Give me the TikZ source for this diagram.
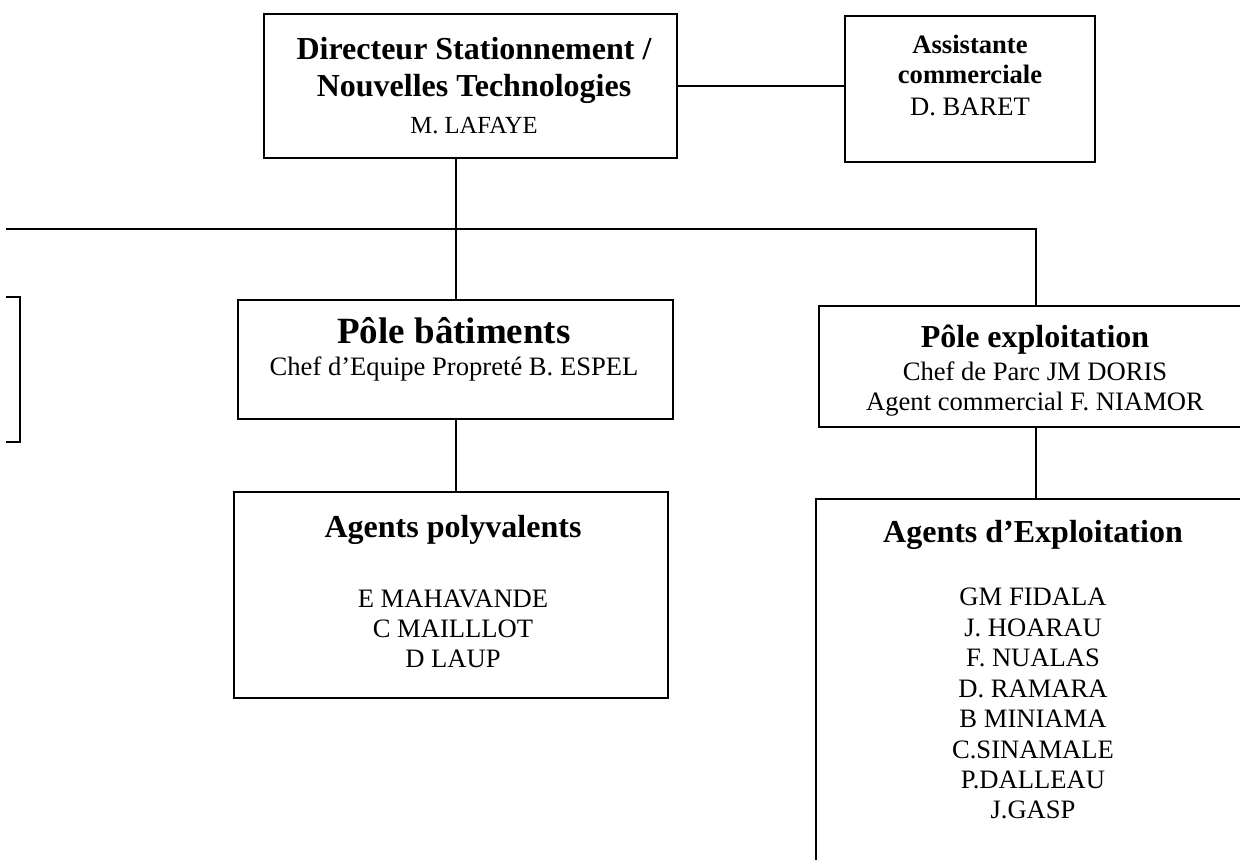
\documentclass[tikz,border=0pt]{standalone}
\usepackage{fontspec}
\setmainfont{Liberation Serif}
\begin{document}
\begin{tikzpicture}[x=0.5pt,y=-0.5pt,
  line width=1pt,
  box/.style={draw, line width=1pt, rectangle, inner sep=0pt, outer sep=0pt},
  lbl/.style={anchor=base, inner sep=0pt, outer sep=0pt},
  reg/.style={lbl, font=\fontsize{13.3}{15}\selectfont},
  small/.style={lbl, font=\fontsize{12.3}{14}\selectfont},
  bhead/.style={lbl, font=\fontsize{16}{18}\selectfont\bfseries},
  bbig/.style={lbl, font=\fontsize{18.5}{21}\selectfont\bfseries},
  bsmall/.style={lbl, font=\fontsize{13.3}{15}\selectfont\bfseries}]
\useasboundingbox (0,0) rectangle (1240,859);
\clip (6,0) rectangle (1240,859);

% boxes
\node[box, minimum width=206.5pt, minimum height=72pt] (dir) at (470.5,86) {};
\node[box, minimum width=125pt, minimum height=73pt] (asst) at (970,89) {};
\node[box, minimum width=217.5pt, minimum height=59.5pt] (pb) at (455.5,359.5) {};
\node[box, minimum width=217pt, minimum height=103pt] (ap) at (451,595) {};
\node[box, minimum width=217pt, minimum height=60.5pt] (pe) at (1036,366.5) {};
\node[box, minimum width=218pt, minimum height=210.5pt] (ae) at (1034,709.5) {};
\node[box, minimum width=60pt, minimum height=72.5pt] (lb) at (-40,369.5) {};

% connectors
\draw (dir.east) -- (dir.east -| asst.west);
\draw (dir.south -| pb.north) -- (pb.north);
\coordinate (busL) at (6,229);
\draw (busL) -- (busL -| pe.north) -- (pe.north);
\draw (pb.south) -- (pb.south |- ap.north);
\draw (pe.south) -- (pe.south |- ae.north);

% Directeur
\node[bhead] (d1) at (474,59) {Directeur Stationnement /};
\node[bhead] (d2) at (474,96) {Nouvelles Technologies};
\node[small] (d3) at (474,133) {M. LAFAYE};

% Assistante
\node[bsmall] (a1) at (970,53) {Assistante};
\node[bsmall] (a2) at (970,83) {commerciale};
\node[reg] (a3) at (970,115) {D. BARET};

% Pole batiments
\node[bbig] (b1) at (454,343) {Pôle bâtiments};
\node[reg] (b2) at (454,375) {Chef d’Equipe Propreté B. ESPEL};

% Agents polyvalents
\node[bhead] (p0) at (453,537) {Agents polyvalents};
\node[reg] (p1) at (453,607) {E MAHAVANDE};
\node[reg] (p2) at (453,637) {C MAILLLOT};
\node[reg] (p3) at (453,667) {D LAUP};

% Pole exploitation
\node[bhead] (e1) at (1035,347) {Pôle exploitation};
\node[reg] (e2) at (1035,380) {Chef de Parc JM DORIS};
\node[reg] (e3) at (1035,410) {Agent commercial F. NIAMOR};

% Agents d'Exploitation
\node[bhead] (x0) at (1033,542) {Agents d’Exploitation};
\node[reg] (x1) at (1033,605) {GM FIDALA};
\node[reg] (x2) at (1033,636) {J. HOARAU};
\node[reg] (x3) at (1033,666) {F. NUALAS};
\node[reg] (x4) at (1033,697) {D. RAMARA};
\node[reg] (x5) at (1033,727) {B MINIAMA};
\node[reg] (x6) at (1033,758) {C.SINAMALE};
\node[reg] (x7) at (1033,788) {P.DALLEAU};
\node[reg] (x8) at (1033,818) {J.GASP};
\end{tikzpicture}
\end{document}
